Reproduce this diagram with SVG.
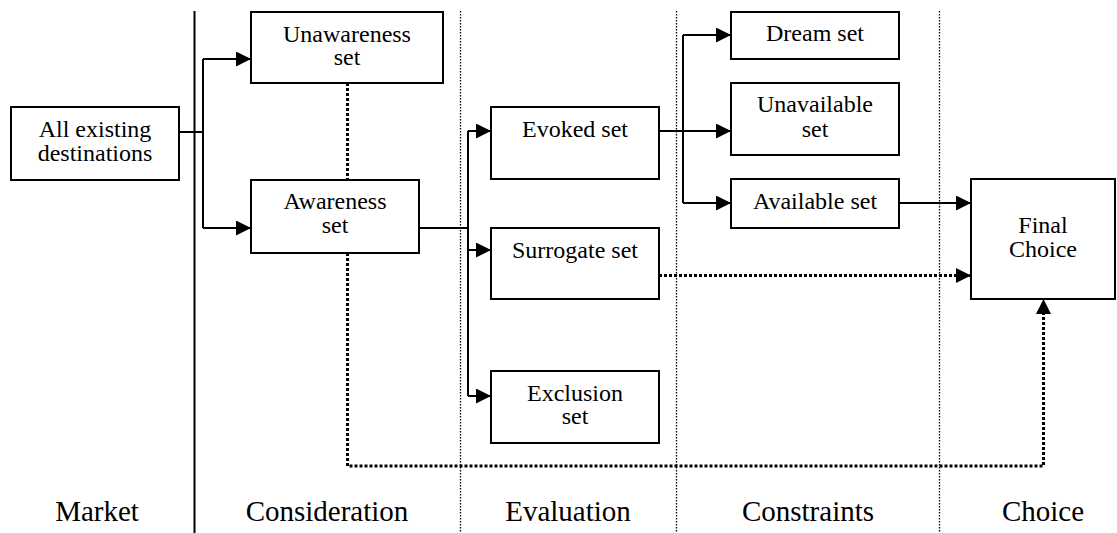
<svg xmlns="http://www.w3.org/2000/svg" width="1117" height="533" viewBox="0 0 1117 533">
  <style>
    .box { fill: #fff; stroke: #000; stroke-width: 2; }
    .lbl { font-family: "Liberation Serif", "Times New Roman", serif; font-size: 24px; fill: #000; text-anchor: middle; }
    .col { font-family: "Liberation Serif", "Times New Roman", serif; font-size: 29px; fill: #000; text-anchor: middle; }
    .sep { stroke: #000; stroke-width: 1.3; stroke-dasharray: 1.5 1.5; fill: none; }
    .solid { stroke: #000; stroke-width: 2; fill: none; }
    .dot { stroke: #000; stroke-width: 3; stroke-dasharray: 3 2; fill: none; }
  </style>
  <defs>
    <marker id="arrow" markerUnits="userSpaceOnUse" markerWidth="16" markerHeight="16" refX="15" refY="7.5" orient="auto">
      <path d="M0,0 L15,7.5 L0,15 Z" fill="#000"/>
    </marker>
  </defs>
  <rect width="1117" height="533" fill="#fff"/>

  <!-- stage separators -->
  <g id="separators">
    <line x1="194.5" y1="11" x2="194.5" y2="533" stroke="#000" stroke-width="2"/>
    <line class="sep" x1="460.5" y1="11" x2="460.5" y2="533"/>
    <line class="sep" x1="676.5" y1="11" x2="676.5" y2="533"/>
    <line class="sep" x1="939.5" y1="11" x2="939.5" y2="533"/>
  </g>

  <!-- connectors -->
  <g id="connectors">
    <!-- market to consideration -->
    <polyline class="solid" points="179,132 203,132"/>
    <polyline class="solid" points="203,59 203,228"/>
    <line class="solid" x1="203" y1="59" x2="251" y2="59" marker-end="url(#arrow)"/>
    <line class="solid" x1="203" y1="228" x2="251" y2="228" marker-end="url(#arrow)"/>
    <!-- unawareness / awareness link -->
    <line class="dot" x1="347.5" y1="83" x2="347.5" y2="180"/>
    <!-- awareness to evaluation -->
    <line class="solid" x1="419" y1="228" x2="468" y2="228"/>
    <line class="solid" x1="468" y1="131" x2="468" y2="396"/>
    <line class="solid" x1="468" y1="131" x2="491" y2="131" marker-end="url(#arrow)"/>
    <line class="solid" x1="468" y1="250" x2="491" y2="250" marker-end="url(#arrow)"/>
    <line class="solid" x1="468" y1="396" x2="491" y2="396" marker-end="url(#arrow)"/>
    <!-- evoked to constraints -->
    <line class="solid" x1="659" y1="131" x2="731" y2="131" marker-end="url(#arrow)"/>
    <line class="solid" x1="683" y1="35" x2="683" y2="203"/>
    <line class="solid" x1="683" y1="35" x2="731" y2="35" marker-end="url(#arrow)"/>
    <line class="solid" x1="683" y1="203" x2="731" y2="203" marker-end="url(#arrow)"/>
    <!-- to final choice -->
    <line class="solid" x1="899" y1="203" x2="971" y2="203" marker-end="url(#arrow)"/>
    <line class="dot" x1="659" y1="275.5" x2="971" y2="275.5" marker-end="url(#arrow)"/>
    <polyline class="dot" points="347.5,253 347.5,466 1043.5,466 1043.5,299" marker-end="url(#arrow)"/>
  </g>

  <g id="all-existing">
    <rect class="box" x="11" y="107" width="168" height="73"/>
    <text class="lbl" x="95" y="137">All existing</text>
    <text class="lbl" x="95" y="161">destinations</text>
  </g>
  <g id="unawareness">
    <rect class="box" x="251" y="12" width="192" height="71"/>
    <text class="lbl" x="347" y="41.5">Unawareness</text>
    <text class="lbl" x="347" y="65">set</text>
  </g>
  <g id="awareness">
    <rect class="box" x="251" y="180" width="168" height="73"/>
    <text class="lbl" x="335" y="209">Awareness</text>
    <text class="lbl" x="335" y="232.5">set</text>
  </g>
  <g id="evoked">
    <rect class="box" x="491" y="107" width="168" height="72"/>
    <text class="lbl" x="575" y="137">Evoked set</text>
  </g>
  <g id="surrogate">
    <rect class="box" x="491" y="228" width="168" height="71"/>
    <text class="lbl" x="575" y="257.5">Surrogate set</text>
  </g>
  <g id="exclusion">
    <rect class="box" x="491" y="371" width="168" height="72"/>
    <text class="lbl" x="575" y="400.5">Exclusion</text>
    <text class="lbl" x="575" y="424">set</text>
  </g>
  <g id="dream">
    <rect class="box" x="731" y="12" width="168" height="47"/>
    <text class="lbl" x="815" y="41">Dream set</text>
  </g>
  <g id="unavailable">
    <rect class="box" x="731" y="83" width="168" height="72"/>
    <text class="lbl" x="815" y="112">Unavailable</text>
    <text class="lbl" x="815" y="136.5">set</text>
  </g>
  <g id="available">
    <rect class="box" x="731" y="179" width="168" height="49"/>
    <text class="lbl" x="815" y="208.5">Available set</text>
  </g>
  <g id="final-choice">
    <rect class="box" x="971" y="179" width="144" height="120"/>
    <text class="lbl" x="1043" y="232.5">Final</text>
    <text class="lbl" x="1043" y="256.5">Choice</text>
  </g>

  <g id="stage-labels">
    <text class="col" x="97" y="521">Market</text>
    <text class="col" x="327" y="521">Consideration</text>
    <text class="col" x="568" y="521">Evaluation</text>
    <text class="col" x="808" y="521">Constraints</text>
    <text class="col" x="1043" y="521">Choice</text>
  </g>
</svg>
